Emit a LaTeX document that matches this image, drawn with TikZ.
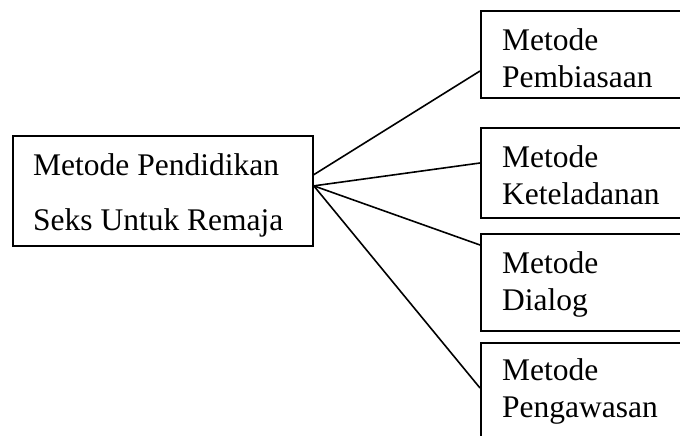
\documentclass[tikz,border=0pt]{standalone}
\usepackage{fontspec}
\setmainfont{Liberation Serif}
\usetikzlibrary{calc}
\begin{document}
\begin{tikzpicture}[x=1pt,y=-1pt,
  boxshape/.style={draw=black,line width=1.8pt,rectangle,inner sep=0pt,anchor=north west},
  lbl/.style={inner sep=0pt,anchor=north west,align=left,font=\fontsize{31.5}{37}\selectfont},
  conn/.style={draw=black,line width=1.6pt}]
\useasboundingbox (0,0) rectangle (680,436);
\clip (0,0) rectangle (680,436);
\node[boxshape,minimum width=300pt,minimum height=110pt] (a) at (12,135) {};
\node[boxshape,minimum width=240pt,minimum height=87pt] (b1) at (480,10) {};
\node[boxshape,minimum width=240pt,minimum height=90pt] (b2) at (480,127) {};
\node[boxshape,minimum width=240pt,minimum height=97pt] (b3) at (480,233) {};
\node[boxshape,minimum width=240pt,minimum height=130pt] (b4) at (480,342) {};
\node[lbl,font=\fontsize{31.5}{55}\selectfont] (t0) at ($(a.north west)+(21,18.5)$) {Metode Pendidikan\\Seks Untuk Remaja};
\node[lbl] (t1) at ($(b1.north west)+(22,18.5)$) {Metode\\Pembiasaan};
\node[lbl] (t2) at ($(b2.north west)+(22,18.5)$) {Metode\\Keteladanan};
\node[lbl] (t3) at ($(b3.north west)+(22,18.5)$) {Metode\\Dialog};
\node[lbl] (t4) at ($(b4.north west)+(22,16.5)$) {Metode\\Pengawasan};
\coordinate (c1) at ($(a.north east)!0.355!(a.south east)$);
\coordinate (c2) at ($(a.north east)!0.455!(a.south east)$);
\draw[conn] (c1) -- ($(b1.north west)+(0,61)$);
\draw[conn] (c2) -- ($(b2.north west)+(0,36)$);
\draw[conn] (c2) -- ($(b3.north west)+(0,12)$);
\draw[conn] (c2) -- ($(b4.north west)+(0,46)$);
\end{tikzpicture}
\end{document}
